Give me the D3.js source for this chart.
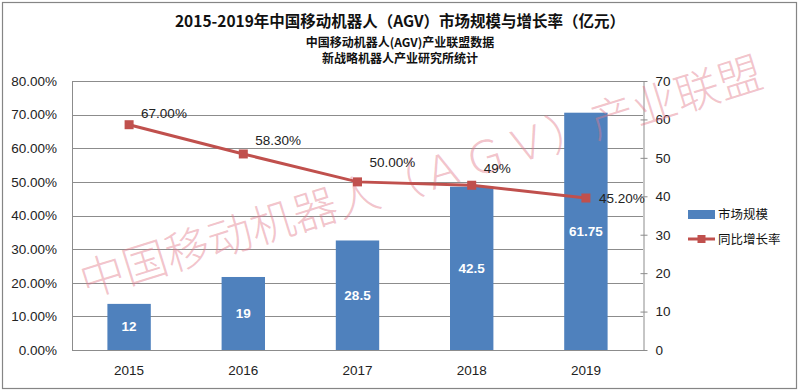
<!DOCTYPE html>
<html><head><meta charset="utf-8">
<script src="https://cdn.jsdelivr.net/npm/d3@7/dist/d3.min.js"></script>
<style>
html,body{margin:0;padding:0;background:#fff;}
svg{display:block;}
</style></head>
<body>
<svg id="chart" width="800" height="391"></svg>
<script>
// ---- data ----
const years = ["2015", "2016", "2017", "2018", "2019"];
const marketSize = [12, 19, 28.5, 42.5, 61.75];
const growthRate = [0.67, 0.583, 0.50, 0.49, 0.452];
const growthLabels = ["67.00%", "58.30%", "50.00%", "49%", "45.20%"];
const leftTicks = [0, 0.1, 0.2, 0.3, 0.4, 0.5, 0.6, 0.7, 0.8];
const rightTicks = [0, 10, 20, 30, 40, 50, 60, 70];
const seriesNames = ["市场规模", "同比增长率"];
const titleText = "2015-2019年中国移动机器人（AGV）市场规模与增长率（亿元）";
const subtitleLines = ["中国移动机器人(AGV)产业联盟数据", "新战略机器人产业研究所统计"];
const watermarkText = "中国移动机器人（ＡＧＶ）产业联盟";

// ---- layout ----
const svg = d3.select("#chart");
const W = 800, H = 391;
const plot = {left: 72, right: 643, top: 81, bottom: 350};
const blue = "#4F81BD", red = "#C0504D", grid = "#8c8c8c";
const latin = "'Liberation Sans', Arial, sans-serif";
const cjk = "'Noto Sans CJK SC', 'Liberation Sans', sans-serif";

svg.append("rect").attr("x", 0).attr("y", 0).attr("width", W).attr("height", H).attr("fill", "#fff");
svg.append("rect").attr("x", 2.5).attr("y", 2.5).attr("width", 794).attr("height", 386)
  .attr("fill", "none").attr("stroke", "#858585").attr("stroke-width", 1.2);

const x = d3.scaleBand().domain(years).range([plot.left, plot.right]).padding(0);
const yL = d3.scaleLinear().domain([0, 0.8]).range([plot.bottom, plot.top]);
const yR = d3.scaleLinear().domain([0, 70]).range([plot.bottom, plot.top]);
const barW = x.bandwidth() * 0.38;
const cx = d => x(d) + x.bandwidth() / 2;

// gridlines
svg.append("g").selectAll("line").data(leftTicks).join("line")
  .attr("x1", plot.left).attr("x2", plot.right)
  .attr("y1", d => Math.round(yL(d)) + 0.5).attr("y2", d => Math.round(yL(d)) + 0.5)
  .attr("stroke", grid).attr("stroke-width", 1);
svg.append("line").attr("x1", plot.left + 0.5).attr("x2", plot.left + 0.5)
  .attr("y1", plot.top).attr("y2", plot.bottom).attr("stroke", grid);

// left axis
const leftAxis = svg.append("g").attr("transform", `translate(${plot.left},0)`)
  .call(d3.axisLeft(yL).tickValues(leftTicks).tickFormat(d3.format(".2%")).tickSize(0).tickPadding(15));
leftAxis.select(".domain").remove();
leftAxis.selectAll("text").attr("font-family", latin).attr("font-size", 13.5).attr("fill", "#222");

// right axis
const rightAxis = svg.append("g").attr("transform", `translate(${plot.right + 0.5},0)`)
  .call(d3.axisRight(yR).tickValues(rightTicks).tickSize(4).tickSizeOuter(0).tickPadding(8));
rightAxis.select(".domain").attr("stroke", grid);
rightAxis.selectAll(".tick line").attr("stroke", grid).attr("x1", -3);
rightAxis.selectAll("text").attr("font-family", latin).attr("font-size", 13.5).attr("fill", "#222");

// x axis labels
const xAxis = svg.append("g").attr("transform", `translate(0,${plot.bottom})`)
  .call(d3.axisBottom(x).tickSize(0).tickPadding(15));
xAxis.select(".domain").remove();
xAxis.selectAll("text").attr("font-family", latin).attr("font-size", 13.5).attr("fill", "#222");

// bars
svg.append("g").selectAll("rect").data(years).join("rect")
  .attr("x", d => cx(d) - barW / 2)
  .attr("y", (d, i) => yR(marketSize[i]))
  .attr("width", barW)
  .attr("height", (d, i) => plot.bottom - yR(marketSize[i]))
  .attr("fill", blue);
svg.append("g").selectAll("text").data(years).join("text")
  .attr("x", d => cx(d))
  .attr("y", (d, i) => (yR(marketSize[i]) + plot.bottom) / 2)
  .attr("text-anchor", "middle").attr("dominant-baseline", "central")
  .attr("font-family", latin).attr("font-weight", "bold").attr("font-size", 13.5)
  .attr("fill", "#fff")
  .text((d, i) => String(marketSize[i]));

// watermark (drawn over bars, under the line)
const wmStart = [86, 298], wmAngle = -17.3;
svg.append("text")
  .attr("transform", `translate(${wmStart[0]},${wmStart[1]}) rotate(${wmAngle})`)
  .attr("font-family", cjk).attr("font-weight", 300).attr("font-size", 44.5)
  .attr("fill", "#e27b8c").attr("fill-opacity", 0.45)
  .text(watermarkText);

// line
const line = d3.line().x((d, i) => cx(years[i])).y(d => yL(d));
svg.append("path").datum(growthRate).attr("d", line)
  .attr("fill", "none").attr("stroke", red).attr("stroke-width", 3);
svg.append("g").selectAll("rect").data(growthRate).join("rect")
  .attr("x", (d, i) => cx(years[i]) - 4.5).attr("y", d => yL(d) - 4.5)
  .attr("width", 9).attr("height", 9).attr("fill", red);

// line labels (above-right, last one right)
const labelDy = [-11, -13, -19, -17, 0];
svg.append("g").selectAll("text").data(growthRate).join("text")
  .attr("x", (d, i) => cx(years[i]) + (i === 4 ? 13 : 12))
  .attr("y", (d, i) => yL(d) + labelDy[i])
  .attr("dominant-baseline", "central")
  .attr("font-family", latin).attr("font-size", 13.5).attr("fill", "#222")
  .text((d, i) => growthLabels[i]);

// title
svg.append("text").attr("x", 400).attr("y", 20).attr("text-anchor", "middle")
  .attr("dominant-baseline", "central")
  .attr("font-family", cjk).attr("font-weight", "bold").attr("font-size", 15.5).attr("fill", "#111")
  .text(titleText);
svg.append("g").selectAll("text").data(subtitleLines).join("text")
  .attr("x", 400).attr("y", (d, i) => 41 + i * 16.5).attr("text-anchor", "middle")
  .attr("dominant-baseline", "central")
  .attr("font-family", cjk).attr("font-weight", "bold").attr("font-size", 12).attr("fill", "#111")
  .text(d => d);

// legend
const lg = svg.append("g").attr("transform", "translate(688,0)");
lg.append("rect").attr("x", 0).attr("y", 210).attr("width", 27).attr("height", 9).attr("fill", blue);
lg.append("line").attr("x1", 0).attr("x2", 27).attr("y1", 239).attr("y2", 239)
  .attr("stroke", red).attr("stroke-width", 3);
lg.append("rect").attr("x", 9.5).attr("y", 235).attr("width", 8).attr("height", 8).attr("fill", red);
lg.selectAll("text.lbl").data(seriesNames).join("text").attr("class", "lbl")
  .attr("x", 30).attr("y", (d, i) => 213 + i * 25)
  .attr("dominant-baseline", "central")
  .attr("font-family", cjk).attr("font-size", 12.5).attr("fill", "#111")
  .text(d => d);
</script>
</body></html>
